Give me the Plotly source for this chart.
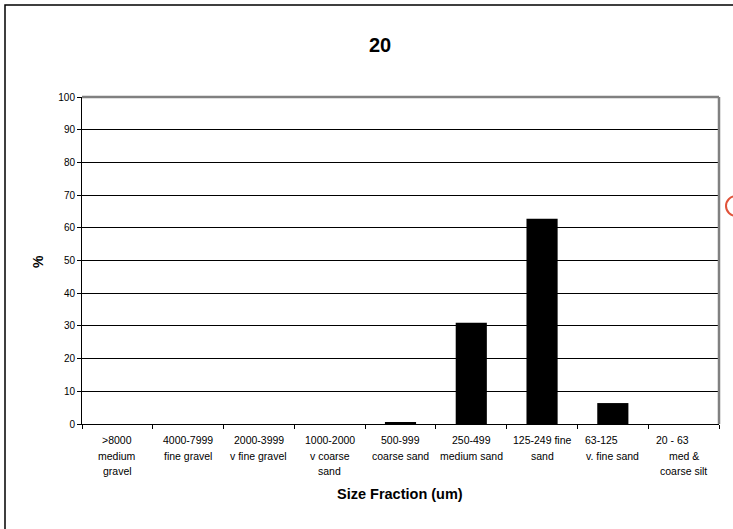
import plotly.graph_objects as go

# Grain-size distribution for sample 20
categories = [">8000\nmedium\ngravel", "4000-7999\nfine gravel", "2000-3999\nv fine gravel",
              "1000-2000\nv coarse\nsand", "500-999\ncoarse sand", "250-499\nmedium sand",
              "125-249 fine\nsand", "63-125\u00a0\u00a0\u00a0\u00a0\u00a0\u00a0\u00a0\u00a0\nv. fine sand",
              "20 - 63\u00a0\u00a0\u00a0\u00a0\u00a0\u00a0\u00a0\u00a0\nmed &\ncoarse silt"]
percent = [0.0, 0.0, 0.0, 0.0, 0.5, 31.0, 62.8, 6.4, 0.0]
y_ticks = list(range(0, 101, 10))

W, H = 733, 529
L, R, T, B = 82, 14, 97, 105
pw, ph = W - L - R, H - T - B

def px_x(px):
    return (px - L) / pw

def px_y(py):
    return (H - B - py) / ph

FONT = "Liberation Sans, Arial, sans-serif"

fig = go.Figure(go.Bar(
    x=list(range(len(categories))), y=percent,
    marker=dict(color="black", line=dict(color="black", width=0)),
))

fig.update_layout(
    width=W, height=H,
    margin=dict(l=L, r=R, t=T, b=B),
    paper_bgcolor="white", plot_bgcolor="white",
    bargap=0.56, showlegend=False,
    font=dict(family=FONT, color="black"),
)

fig.update_xaxes(
    type="linear", range=[-0.5, len(categories) - 0.5],
    tickvals=[i - 0.5 for i in range(len(categories) + 1)],
    showticklabels=False, ticks="outside", ticklen=4, tickcolor="black",
    showline=True, linecolor="black", linewidth=1, showgrid=False, zeroline=False,
)
fig.update_yaxes(
    range=[0, 100], tickvals=y_ticks, ticks="outside", ticklen=4, tickcolor="black",
    tickfont=dict(size=10, family=FONT, color="black"),
    showline=True, linecolor="black", linewidth=1,
    showgrid=True, gridcolor="black", gridwidth=1, zeroline=False,
)

annotations = []
# multi-line category labels under each bar
for i, lab in enumerate(categories):
    for j, line in enumerate(lab.split("\n")):
        annotations.append(dict(
            x=i, xref="x", y=0, yref="paper", text=line, showarrow=False,
            yanchor="middle", xanchor="center", yshift=-(16 + 15.5 * j),
            font=dict(size=10.5, family=FONT, color="black"),
        ))

annotations += [
    dict(text="<b>20</b>", x=px_x(380), y=px_y(45), xref="paper", yref="paper",
         showarrow=False, xanchor="center", yanchor="middle",
         font=dict(size=20, family=FONT, color="black")),
    dict(text="<b>Size Fraction (um)</b>", x=px_x(400), y=px_y(494), xref="paper", yref="paper",
         showarrow=False, xanchor="center", yanchor="middle",
         font=dict(size=14.5, family=FONT, color="black")),
    dict(text="<b>%</b>", x=px_x(38), y=px_y(262), xref="paper", yref="paper",
         showarrow=False, xanchor="center", yanchor="middle", textangle=-90,
         font=dict(size=14, family=FONT, color="black")),
]
fig.update_layout(annotations=annotations)

shapes = [
    # outer chart frame
    dict(type="rect", xref="paper", yref="paper",
         x0=px_x(5), x1=px_x(800), y0=px_y(600), y1=px_y(5),
         line=dict(color="black", width=1.5), fillcolor="rgba(0,0,0,0)", layer="below"),
    # grey plot-area border on top and right
    dict(type="line", xref="paper", yref="paper", x0=0, x1=1, y0=1, y1=1,
         line=dict(color="#808080", width=2.5)),
    dict(type="line", xref="paper", yref="paper", x0=1, x1=1, y0=0, y1=1,
         line=dict(color="#808080", width=2.5)),
    # red mark at the right edge
    dict(type="circle", xref="paper", yref="paper",
         x0=px_x(726), x1=px_x(746), y0=px_y(216), y1=px_y(196),
         line=dict(color="#E0533A", width=2), fillcolor="rgba(0,0,0,0)"),
]
fig.update_layout(shapes=shapes)

fig.write_html("out.html")
